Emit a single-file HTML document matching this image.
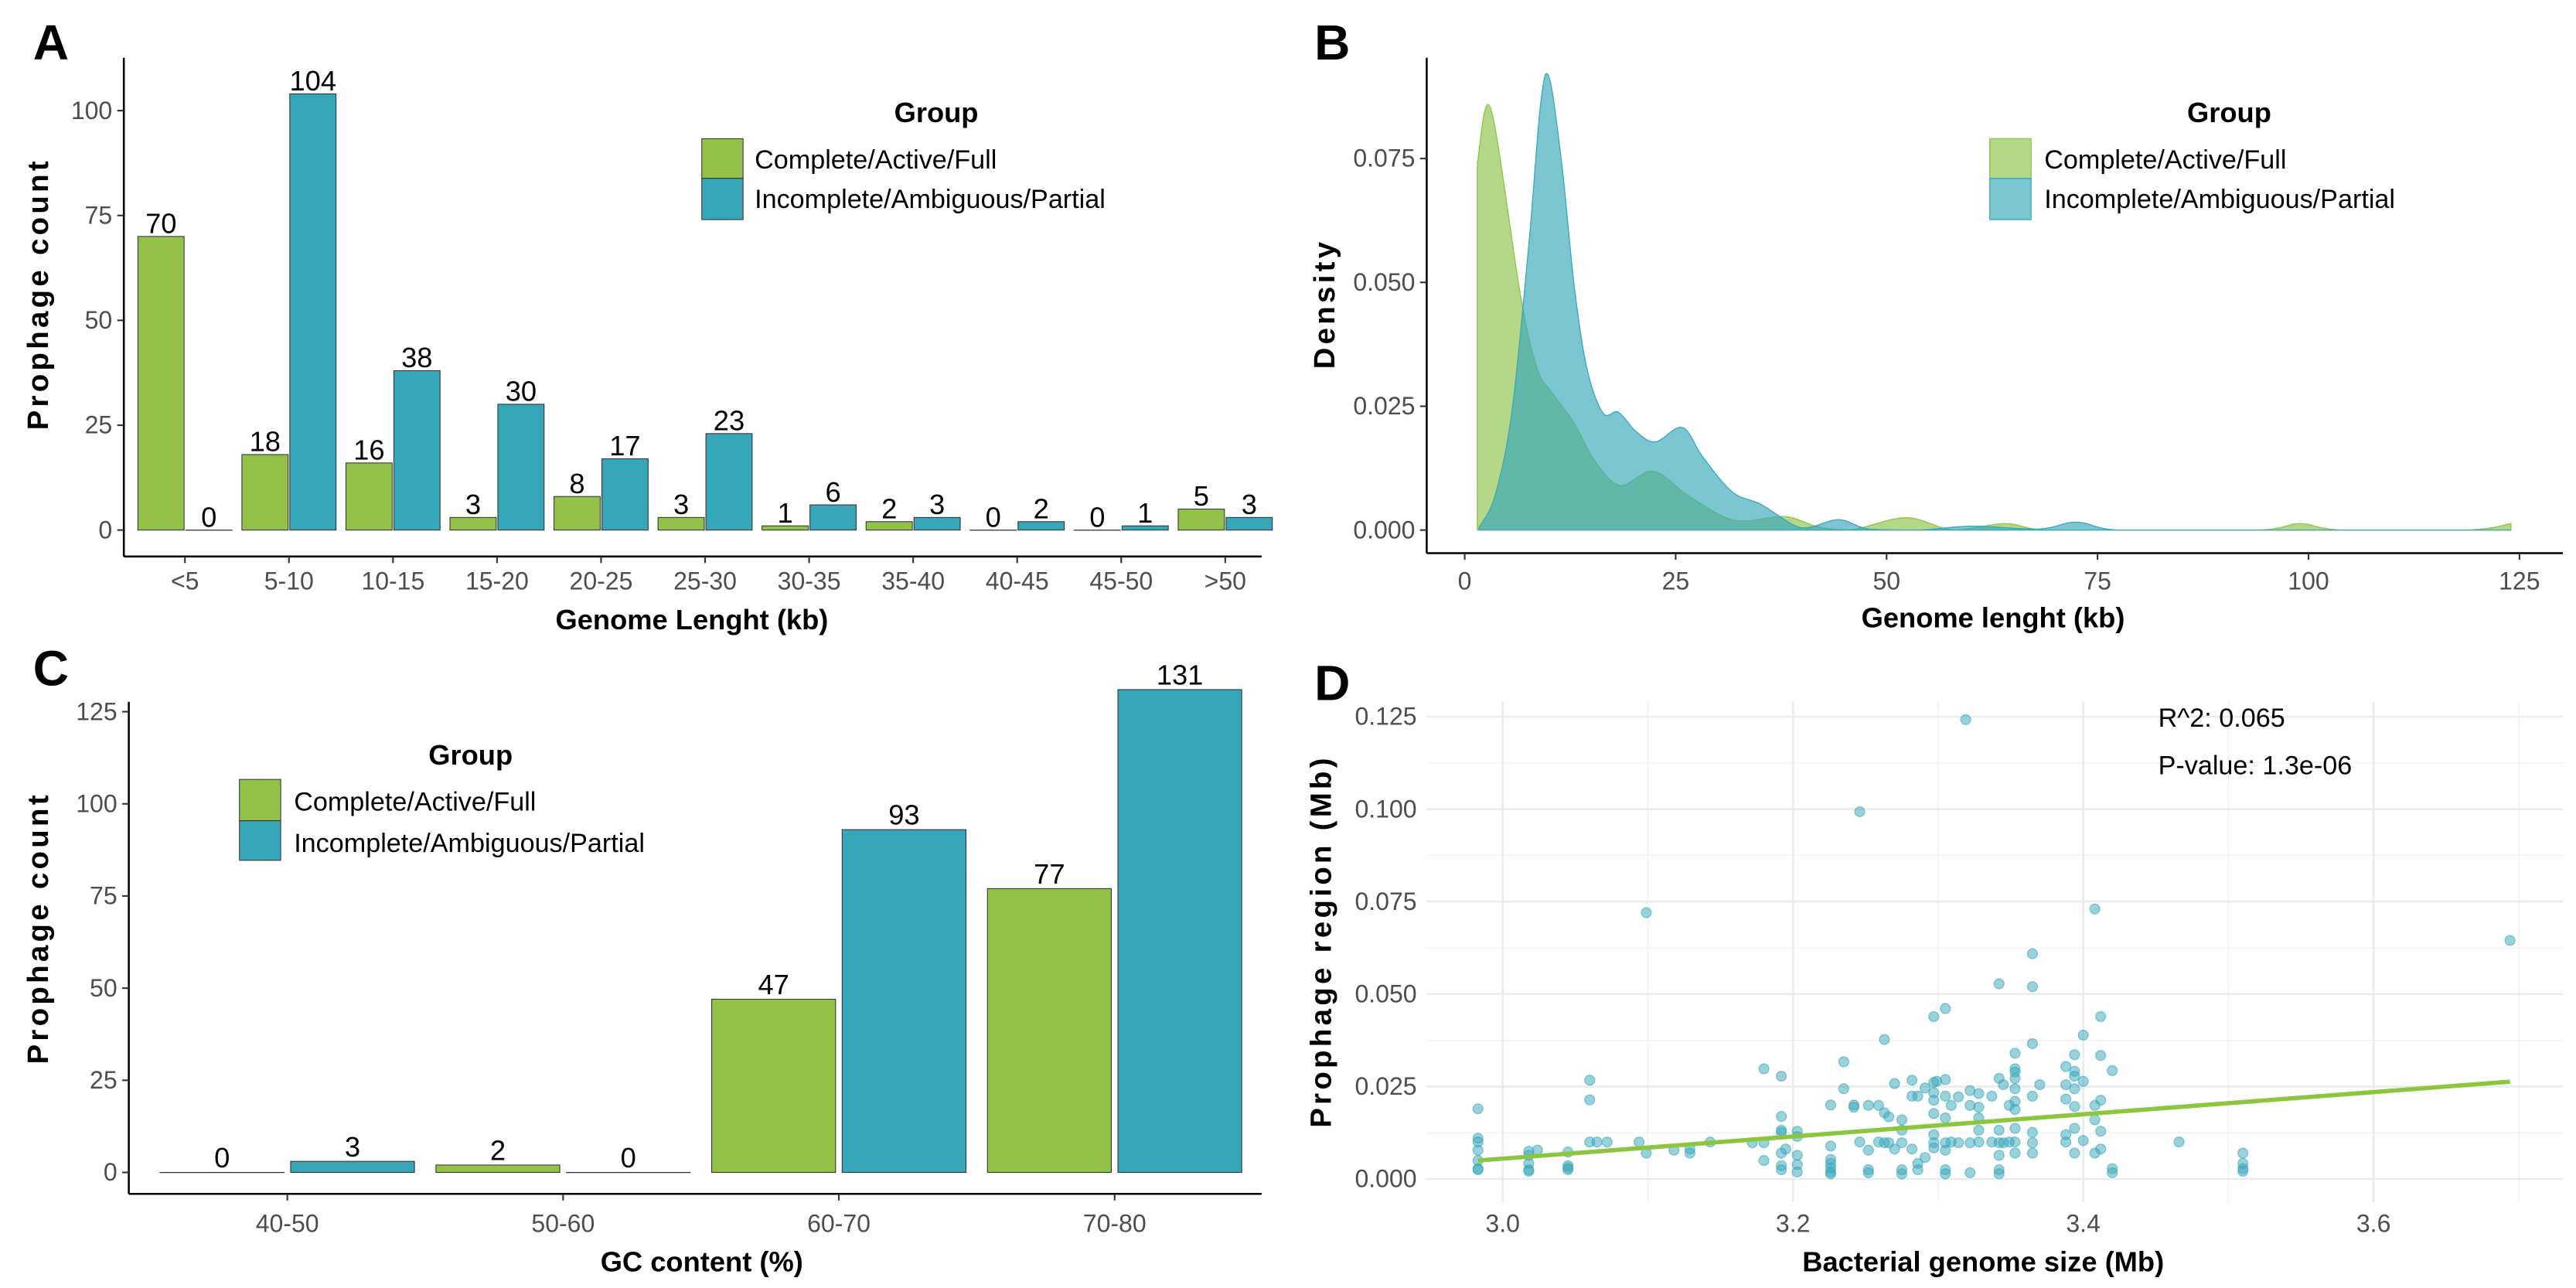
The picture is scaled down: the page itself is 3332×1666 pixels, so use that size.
<!DOCTYPE html>
<html><head><meta charset="utf-8"><style>
html,body{margin:0;padding:0;background:#fff;}
svg{display:block;font-family:"Liberation Sans",Arial,sans-serif;}
.tick{fill:#4d4d4d;font-size:15px;}
.title{fill:#000;font-size:17px;font-weight:bold;}
.ytitle{fill:#000;font-size:18px;font-weight:bold;letter-spacing:2px;}
.lbl{fill:#000;font-size:17px;}
.panel{font-size:30px;font-weight:bold;fill:#000;}
.leg{font-size:16px;fill:#000;}
</style></head><body>
<svg id="fig" width="3332" height="1666" viewBox="0 0 1560 780" xmlns="http://www.w3.org/2000/svg">
<rect width="1560" height="780" fill="#fff"/>
<g id="A"></g>
<g id="B"></g>
<g id="C"></g>
<g id="D"></g>
</svg>
<script>
// ---------- Panel A data ----------
const lenCategories = ["<5","5-10","10-15","15-20","20-25","25-30","30-35","35-40","40-45","45-50",">50"];
const lenComplete = [70,18,16,3,8,3,1,2,0,0,5];
const lenIncomplete = [0,104,38,30,17,23,6,3,2,1,3];
const countTicksA = [0,25,50,75,100];
// ---------- Panel B data ----------
const densXComplete = [1.5,3.1,6.6,8.6,10.5,13,15.4,18.4,22.3,26.2,30.2,33,38,42,46,52.3,58,64,68.5,77,94,99,104,118.8,124];
const densYComplete = [0.074,0.085,0.0475,0.0325,0.0274,0.0215,0.014,0.009,0.0119,0.0073,0.0031,0.0018,0.0027,0.0006,0.0001,0.0025,0,0.0013,0,0,0,0.0013,0,0,0.0013];
const densXIncomplete = [1.7,3.6,5.6,7.6,9,10,11.5,13,14.5,16.4,18.2,20.3,22.6,25.8,28.2,31.7,35.1,39,41,44.4,47.9,53.8,60.2,68,72.5,77.4,90,124];
const densYIncomplete = [0.0005,0.007,0.024,0.0576,0.086,0.0914,0.074,0.049,0.0325,0.0236,0.0238,0.0199,0.0178,0.0207,0.0148,0.0077,0.0052,0.001,0.0006,0.0021,0.0002,0,0.0008,0.0002,0.0016,0,0,0];
const densTicksX = [0,25,50,75,100,125];
const densTicksY = [0,0.025,0.05,0.075];
// ---------- Panel C data ----------
const gcCategories = ["40-50","50-60","60-70","70-80"];
const gcComplete = [0,2,47,77];
const gcIncomplete = [3,0,93,131];
const countTicksC = [0,25,50,75,100,125];
// ---------- Panel D data ----------
const genomeSizes = [2.983,3.018,3.024,3.045,3.06,3.065,3.072,3.094,3.099,3.118,3.129,3.143,3.172,3.18,3.192,3.195,3.203,3.226,3.235,3.242,3.246,3.252,3.259,3.263,3.266,3.27,3.275,3.282,3.286,3.291,3.297,3.299,3.305,3.309,3.314,3.319,3.322,3.328,3.337,3.342,3.345,3.349,3.353,3.365,3.37,3.388,3.394,3.4,3.408,3.412,3.42,3.466,3.51,3.694];
const prophageRegions = [
[0.019,0.011,0.010,0.0078,0.005,0.0028,0.0025],
[0.0075,0.0064,0.0042,0.0025,0.0021],
[0.0078],
[0.0073,0.0036,0.003,0.0025],
[0.0267,0.0214,0.010],
[0.010],[0.010],[0.010],
[0.072,0.007],
[0.0078],
[0.0081,0.007],
[0.010],[0.0098],
[0.0298,0.0098,0.005],
[0.0278,0.0169,0.0132,0.0126,0.007,0.0036,0.0025],
[0.0081],
[0.0129,0.0115,0.0064,0.0039,0.0019],
[0.020,0.0089,0.0053,0.0042,0.003,0.0019,0.0014],
[0.0317,0.0244],
[0.020,0.0194],
[0.0993,0.010],
[0.0199,0.0078,0.0025,0.0017],
[0.0199,0.010],
[0.0377,0.0179,0.0098],
[0.0168,0.0098],
[0.0258,0.0081],
[0.016,0.0132,0.0098,0.0025,0.0014],
[0.0267,0.0224,0.0081],
[0.0224,0.0042,0.0025],
[0.0246,0.0058],
[0.0439,0.0261,0.0233,0.0213,0.0177,0.012,0.0098,0.0084],
[0.0264],
[0.0461,0.0269,0.0224,0.0165,0.0098,0.0078,0.0025,0.0014],
[0.0199,0.010],
[0.0222,0.0098],
[0.1242],
[0.0239,0.0199,0.0098,0.0017],
[0.0231,0.0194,0.0165,0.0132,0.010],
[0.0224,0.010],
[0.0528,0.0272,0.0132,0.0098,0.0064,0.0025,0.0014],
[0.0255,0.0098],
[0.0199,0.010],
[0.034,0.0298,0.0289,0.0272,0.0244,0.021,0.0188,0.0137,0.010,0.007],
[0.0609,0.052,0.0366,0.0224,0.0126,0.0098,0.007],
[0.0255],
[0.0304,0.0255,0.0216,0.012,0.010],
[0.0336,0.0291,0.0278,0.0244,0.0196,0.0137,0.007],
[0.0389,0.0264,0.0104],
[0.073,0.0199,0.016,0.007],
[0.0439,0.0334,0.0213,0.0129,0.0081],
[0.0293,0.0028,0.0017],
[0.010],
[0.007,0.0042,0.0028,0.0021],
[0.0645]];
const regIntercept = -0.0845;
const regSlope = 0.03;
const sizeTicks = [3.0,3.2,3.4,3.6];
const sizeMinor = [3.1,3.3,3.5,3.7];
const regionTicks = [0,0.025,0.05,0.075,0.1,0.125];

const NS="http://www.w3.org/2000/svg";
const GREEN="#94c249", BLUE="#36a6b9";
function mk(parent,tag,attrs,text){const e=document.createElementNS(NS,tag);for(const k in attrs)e.setAttribute(k,attrs[k]);if(text!==undefined)e.textContent=text;parent.appendChild(e);return e;}

// ================= Panel A =================
(function(){
const g=document.getElementById('A');
const y0=321, ppu=2.54, c0=112, step=63;
const ys=v=>y0-v*ppu, xs=i=>c0+i*step;
let t=mk(g,'text',{x:20,y:36,class:'panel'},'A');

let ax=mk(g,'line',{x1:75,y1:35,x2:75,y2:337,stroke:'#000','stroke-width':1.2});

let bx=mk(g,'line',{x1:75,y1:337,x2:764,y2:337,stroke:'#000','stroke-width':1.2});

countTicksA.forEach(v=>{
  mk(g,'line',{x1:71,y1:ys(v),x2:75,y2:ys(v),stroke:'#333'});
  const tt=mk(g,'text',{x:68,y:ys(v)+5,class:'tick','text-anchor':'end'},String(v));
  
});
lenCategories.forEach((c,i)=>{
  mk(g,'line',{x1:xs(i),y1:337,x2:xs(i),y2:341,stroke:'#333'});
  const tt=mk(g,'text',{x:xs(i),y:357,class:'tick','text-anchor':'middle'},c);
  
  [[lenComplete[i],GREEN,xs(i)-28.5],[lenIncomplete[i],BLUE,xs(i)+0.5]].forEach(([v,col,x])=>{
    const r=mk(g,'rect',{x:x,y:ys(v),width:28,height:Math.max(v*ppu,0.1),fill:col,stroke:'#333','stroke-width':0.5});
    
    const l=mk(g,'text',{x:x+14,y:ys(v)-2,class:'lbl','text-anchor':'middle'},String(v));
    
  });
});
let xt=mk(g,'text',{x:419,y:381,class:'title','text-anchor':'middle'},'Genome Lenght (kb)');

let yt=mk(g,'text',{x:29,y:178,class:'ytitle','text-anchor':'middle',transform:'rotate(-90 29 178)'},'Prophage count');

const lg=mk(g,'g',{});
mk(lg,'text',{x:567,y:74,class:'title','text-anchor':'middle'},'Group');
let k1=mk(lg,'rect',{x:425,y:84,width:25,height:24,fill:GREEN,stroke:'#333','stroke-width':0.5});

let k2=mk(lg,'rect',{x:425,y:108,width:25,height:25,fill:BLUE,stroke:'#333','stroke-width':0.5});

mk(lg,'text',{x:457,y:102,class:'leg'},'Complete/Active/Full');
mk(lg,'text',{x:457,y:126,class:'leg'},'Incomplete/Ambiguous/Partial');
})();

// ================= Panel B =================
function smoothPath(pts,base){
  let d='M'+pts[0][0]+','+pts[0][1];
  for(let i=0;i<pts.length-1;i++){
    const p0=pts[Math.max(i-1,0)],p1=pts[i],p2=pts[i+1],p3=pts[Math.min(i+2,pts.length-1)];
    const c1=[p1[0]+(p2[0]-p0[0])/6,p1[1]+(p2[1]-p0[1])/6];
    const c2=[p2[0]-(p3[0]-p1[0])/6,p2[1]-(p3[1]-p1[1])/6];
    d+=' C'+c1[0]+','+Math.min(c1[1],base)+' '+c2[0]+','+Math.min(c2[1],base)+' '+p2[0]+','+p2[1];
  }
  return d;
}
(function(){
const g=document.getElementById('B');
const xs=v=>887+v*5.11, ys=v=>321-v*3000;
let t=mk(g,'text',{x:796,y:36,class:'panel'},'B');

[[densXComplete,densYComplete,'rgba(140,195,70,0.65)','#8cc346','density-complete'],[densXIncomplete,densYIncomplete,'rgba(53,167,186,0.65)','#35a7ba','density-incomplete']].forEach(([xa,ya,fill,st,name])=>{
  const pts=xa.map((x,i)=>[xs(x),ys(ya[i])]);
  const d=smoothPath(pts,ys(0))+' L'+xs(xa[xa.length-1])+','+ys(0)+' L'+xs(xa[0])+','+ys(0)+' Z';
  const p=mk(g,'path',{d:d,fill:fill,stroke:st,'stroke-width':0.6});
  
});
let ax=mk(g,'line',{x1:864,y1:35,x2:864,y2:335,stroke:'#000','stroke-width':1.2});

let bx=mk(g,'line',{x1:864,y1:335,x2:1552,y2:335,stroke:'#000','stroke-width':1.2});

densTicksY.forEach(v=>{
  mk(g,'line',{x1:860,y1:ys(v),x2:864,y2:ys(v),stroke:'#333'});
  const tt=mk(g,'text',{x:857,y:ys(v)+5,class:'tick','text-anchor':'end'},v.toFixed(3));
  
});
densTicksX.forEach(v=>{
  mk(g,'line',{x1:xs(v),y1:335,x2:xs(v),y2:339,stroke:'#333'});
  const tt=mk(g,'text',{x:xs(v),y:357,class:'tick','text-anchor':'middle'},String(v));
  
});
let xt=mk(g,'text',{x:1207,y:380,class:'title','text-anchor':'middle'},'Genome lenght (kb)');

let yt=mk(g,'text',{x:808,y:184,class:'ytitle','text-anchor':'middle',transform:'rotate(-90 808 184)'},'Density');

const lg=mk(g,'g',{});
mk(lg,'text',{x:1350,y:74,class:'title','text-anchor':'middle'},'Group');
let k1=mk(lg,'rect',{x:1205,y:84,width:25,height:24,fill:'rgba(140,195,70,0.65)',stroke:'#8cc346','stroke-width':0.6});

let k2=mk(lg,'rect',{x:1205,y:108,width:25,height:25,fill:'rgba(53,167,186,0.65)',stroke:'#35a7ba','stroke-width':0.6});

mk(lg,'text',{x:1238,y:102,class:'leg'},'Complete/Active/Full');
mk(lg,'text',{x:1238,y:126,class:'leg'},'Incomplete/Ambiguous/Partial');
})();

// ================= Panel C =================
(function(){
const g=document.getElementById('C');
const y0=710, ppu=2.232, c0=174, step=167;
const ys=v=>y0-v*ppu, xs=i=>c0+i*step;
let t=mk(g,'text',{x:20,y:415,class:'panel'},'C');

let ax=mk(g,'line',{x1:78,y1:425,x2:78,y2:723,stroke:'#000','stroke-width':1.2});

let bx=mk(g,'line',{x1:78,y1:723,x2:764,y2:723,stroke:'#000','stroke-width':1.2});

countTicksC.forEach(v=>{
  mk(g,'line',{x1:74,y1:ys(v),x2:78,y2:ys(v),stroke:'#333'});
  const tt=mk(g,'text',{x:71,y:ys(v)+5,class:'tick','text-anchor':'end'},String(v));
  
});
gcCategories.forEach((c,i)=>{
  mk(g,'line',{x1:xs(i),y1:723,x2:xs(i),y2:727,stroke:'#333'});
  const tt=mk(g,'text',{x:xs(i),y:746,class:'tick','text-anchor':'middle'},c);
  
  [[gcComplete[i],GREEN,xs(i)-77],[gcIncomplete[i],BLUE,xs(i)+2]].forEach(([v,col,x])=>{
    const r=mk(g,'rect',{x:x,y:ys(v),width:75,height:Math.max(v*ppu,0.1),fill:col,stroke:'#333','stroke-width':0.5});
    
    const l=mk(g,'text',{x:x+37.5,y:ys(v)-3,class:'lbl','text-anchor':'middle','font-size':'20'},String(v));
    
  });
});
let xt=mk(g,'text',{x:425,y:770,class:'title','text-anchor':'middle'},'GC content (%)');

let yt=mk(g,'text',{x:29,y:562,class:'ytitle','text-anchor':'middle',transform:'rotate(-90 29 562)'},'Prophage count');

const lg=mk(g,'g',{});
mk(lg,'text',{x:285,y:463,class:'title','text-anchor':'middle'},'Group');
let k1=mk(lg,'rect',{x:145,y:472,width:25,height:25,fill:GREEN,stroke:'#333','stroke-width':0.5});

let k2=mk(lg,'rect',{x:145,y:497,width:25,height:24,fill:BLUE,stroke:'#333','stroke-width':0.5});

mk(lg,'text',{x:178,y:491,class:'leg'},'Complete/Active/Full');
mk(lg,'text',{x:178,y:516,class:'leg'},'Incomplete/Ambiguous/Partial');
})();

// ================= Panel D =================
(function(){
const g=document.getElementById('D');
const xs=v=>910+(v-3)*879, ys=v=>714-v*2240;
const L=864,R=1552,T=425,B=728;
let t=mk(g,'text',{x:796,y:424,class:'panel'},'D');

regionTicks.forEach((v,i)=>{
  if(i<regionTicks.length-1){const m=v+0.0125;mk(g,'line',{x1:L,y1:ys(m),x2:R,y2:ys(m),stroke:'#f0f0f0','stroke-width':0.6});}
});
sizeMinor.forEach(v=>mk(g,'line',{x1:xs(v),y1:T,x2:xs(v),y2:B,stroke:'#f0f0f0','stroke-width':0.6}));
regionTicks.forEach(v=>{
  const gl=mk(g,'line',{x1:L,y1:ys(v),x2:R,y2:ys(v),stroke:'#ebebeb','stroke-width':1.2});
  
  const tt=mk(g,'text',{x:858,y:ys(v)+5,class:'tick','text-anchor':'end'},v.toFixed(3));
  
});
sizeTicks.forEach(v=>{
  const gl=mk(g,'line',{x1:xs(v),y1:T,x2:xs(v),y2:B,stroke:'#ebebeb','stroke-width':1.2});
  
  const tt=mk(g,'text',{x:xs(v),y:746,class:'tick','text-anchor':'middle'},v.toFixed(1));
  
});
genomeSizes.forEach((x,i)=>{
  prophageRegions[i].forEach(y=>{
    const c=mk(g,'circle',{cx:xs(x),cy:ys(y),r:3,fill:'rgba(54,166,185,0.5)',stroke:'rgba(54,166,185,0.6)','stroke-width':0.6});
    
  });
});
const xmin=Math.min(...genomeSizes), xmax=Math.max(...genomeSizes);
const rl=mk(g,'line',{x1:xs(xmin),y1:ys(regIntercept+regSlope*xmin),x2:xs(xmax),y2:ys(regIntercept+regSlope*xmax),stroke:'#8cc63f','stroke-width':2.6});

let a1=mk(g,'text',{x:1307,y:440,class:'leg'},'R^2: 0.065');

let a2=mk(g,'text',{x:1307,y:469,class:'leg'},'P-value: 1.3e-06');

let xt=mk(g,'text',{x:1201,y:770,class:'title','text-anchor':'middle'},'Bacterial genome size (Mb)');

let yt=mk(g,'text',{x:806,y:570,class:'ytitle','text-anchor':'middle',transform:'rotate(-90 806 570)'},'Prophage region (Mb)');

})();
</script>
</body></html>
